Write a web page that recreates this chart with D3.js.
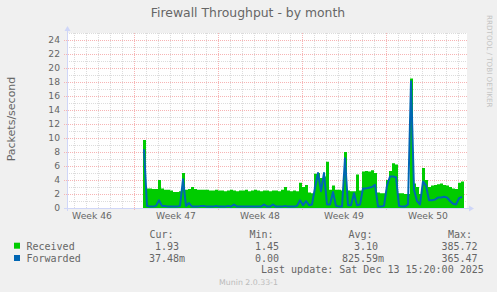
<!DOCTYPE html>
<html><head><meta charset="utf-8">
<script src="https://cdn.jsdelivr.net/npm/d3@7/dist/d3.min.js"></script>
<style>
html,body{margin:0;padding:0;background:#f0f0f0;}
svg{display:block;}
text{font-family:"DejaVu Sans",sans-serif;fill:#666666;}
.mono{font-family:"DejaVu Sans Mono",monospace;}
</style></head><body>
<svg id="c" width="497" height="292"></svg>
<script>
// ---------- data ----------
const title = "Firewall Throughput - by month";
const yLabel = "Packets/second";
const yTicks = [0, 2, 4, 6, 8, 10, 12, 14, 16, 18, 20, 22, 24];
const yMax = 25;
const seriesNames = ["Received", "Forwarded"];
const seriesColors = ["#00cc00", "#0066b3"];
const startTime = Date.UTC(2025, 10, 17, 18);   // first sample
const stepHours = 6;
const received = [
  9.7, 2.8, 2.8, 2.7, 2.7, 4.0, 2.8, 2.6, 2.6, 2.5,
  2.3, 2.3, 2.4, 5.0, 2.6, 2.7, 3.0, 2.7, 2.6, 2.6,
  2.6, 2.6, 2.5, 2.5, 2.6, 2.5, 2.5, 2.4, 2.5, 2.6,
  2.5, 2.4, 2.5, 2.5, 2.6, 2.4, 2.5, 2.6, 2.5, 2.4,
  2.5, 2.5, 2.4, 2.5, 2.5, 2.4, 2.6, 3.0, 2.5, 2.4,
  2.5, 2.4, 3.6, 3.0, 3.3, 2.2, 2.1, 4.9, 5.0, 4.3,
  4.5, 6.6, 2.6, 3.2, 2.6, 2.6, 2.5, 8.0, 2.5, 2.4,
  2.4, 4.8, 2.5, 5.2, 5.3, 5.2, 5.4, 5.0, 2.2, 2.1,
  2.1, 4.0, 5.3, 6.4, 6.2, 2.1, 2.1, 2.0, 2.0, 18.5,
  3.5, 3.0, 2.0, 5.7, 4.0, 3.0, 3.2, 3.3, 3.4, 3.5,
  3.3, 3.2, 3.0, 2.8, 2.7, 3.6, 3.8
];
const forwarded = [
  8.4, 0.3, 0.2, 0.2, 0.3, 1.1, 0.3, 0.3, 0.2, 0.2,
  0.2, 0.2, 0.3, 4.1, 0.3, 0.7, 0.2, 0.2, 0.2, 0.3,
  0.3, 0.2, 0.2, 0.2, 0.3, 0.2, 0.2, 0.2, 0.3, 0.2,
  0.5, 0.2, 0.2, 0.2, 0.2, 0.2, 0.2, 0.2, 0.2, 0.2,
  0.5, 0.2, 0.2, 0.5, 0.2, 0.2, 0.2, 0.3, 0.2, 0.2,
  0.2, 0.3, 1.1, 0.4, 1.0, 0.4, 0.5, 2.9, 5.0, 2.4,
  5.0, 0.5, 0.5, 2.3, 0.3, 0.2, 0.2, 7.1, 0.4, 0.4,
  2.1, 0.4, 0.5, 2.8, 2.8, 2.9, 3.0, 3.3, 0.2, 0.2,
  0.3, 3.2, 4.5, 4.5, 4.4, 0.3, 0.2, 0.2, 0.5, 18.1,
  2.6, 1.0, 0.5, 3.8, 3.2, 1.1, 1.1, 1.2, 1.5, 1.5,
  1.6, 1.5, 1.0, 0.6, 0.5, 1.4, 1.6
];
const legendHeaders = ["Cur:", "Min:", "Avg:", "Max:"];
const receivedStats = ["1.93", "1.45", "3.10", "385.72"];
const forwardedStats = ["37.48m", "0.00", "825.59m", "365.47"];
const lastUpdate = "Last update: Sat Dec 13 15:20:00 2025";
const watermark = "RRDTOOL / TOBI OETIKER";
const footer = "Munin 2.0.33-1";

// ---------- drawing ----------
(function draw() {
const W = 497, H = 292;
const pLeft = 67, pRight = 467, pTop = 33, pBottom = 208;
const domainStart = new Date(Date.UTC(2025, 10, 11, 10));
const domainEnd = new Date(Date.UTC(2025, 11, 14, 18));
const minorGrid = "#dcdcdc", majorGrid = "#f7b4b4";

const svg = d3.select("#c");
svg.append("rect").attr("width", W).attr("height", H).attr("fill", "#f0f0f0");

const x = d3.scaleUtc().domain([domainStart, domainEnd]).range([pLeft, pRight]);
const y = d3.scaleLinear().domain([0, yMax]).range([pBottom, pTop]);

svg.append("rect").attr("x", pLeft).attr("y", pTop)
  .attr("width", pRight - pLeft).attr("height", pBottom - pTop).attr("fill", "#ffffff");

const g = svg.append("g").attr("shape-rendering", "crispEdges");
const days = d3.utcDay.range(domainStart, domainEnd);
const mondays = d3.utcMonday.range(domainStart, domainEnd);
const mondaySet = new Set(mondays.map(d => +d));
days.filter(d => !mondaySet.has(+d)).forEach(d => {
  const px = Math.round(x(d)) + 0.5;
  g.append("line").attr("x1", px).attr("x2", px).attr("y1", pTop).attr("y2", pBottom)
    .attr("stroke", minorGrid).attr("stroke-dasharray", "1,1");
});
d3.range(1, yMax + 1).filter(v => !yTicks.includes(v)).forEach(v => {
  const py = Math.round(y(v)) + 0.5;
  g.append("line").attr("x1", pLeft).attr("x2", pRight).attr("y1", py).attr("y2", py)
    .attr("stroke", minorGrid).attr("stroke-dasharray", "1,1");
});
yTicks.filter(v => v > 0).forEach(v => {
  const py = Math.round(y(v)) + 0.5;
  g.append("line").attr("x1", pLeft - 3).attr("x2", pRight).attr("y1", py).attr("y2", py)
    .attr("stroke", majorGrid).attr("stroke-dasharray", "1,1");
});
mondays.forEach(d => {
  const px = Math.round(x(d)) + 0.5;
  g.append("line").attr("x1", px).attr("x2", px).attr("y1", pTop).attr("y2", pBottom + 3)
    .attr("stroke", majorGrid).attr("stroke-dasharray", "1,1");
});

const stepMs = stepHours * 3600 * 1000;
const recData = received.map((v, i) => ({ t: new Date(startTime + i * stepMs), v }));
recData.push({ t: new Date(startTime + received.length * stepMs), v: received[received.length - 1] });
const fwdData = forwarded.map((v, i) => ({ t: new Date(startTime + i * stepMs + stepMs / 3), v }));

svg.append("path").datum(recData)
  .attr("fill", seriesColors[0])
  .attr("d", d3.area().curve(d3.curveStepAfter).x(d => x(d.t)).y0(y(0)).y1(d => y(d.v)));
svg.append("path").datum(fwdData)
  .attr("fill", "none").attr("stroke", seriesColors[1]).attr("stroke-width", 2)
  .attr("stroke-linejoin", "round")
  .attr("d", d3.line().x(d => x(d.t)).y(d => y(d.v)));

const axisColor = "#cfd6f8";
svg.append("line").attr("x1", pLeft - 3).attr("x2", pRight + 3).attr("y1", pBottom + 0.5).attr("y2", pBottom + 0.5)
  .attr("stroke", axisColor);
svg.append("line").attr("x1", pLeft + 0.5).attr("x2", pLeft + 0.5).attr("y1", pBottom + 3).attr("y2", pTop - 3)
  .attr("stroke", axisColor);
svg.append("path").attr("d", `M${pRight + 2},${pBottom - 2.5}L${pRight + 7},${pBottom + 0.5}L${pRight + 2},${pBottom + 3.5}Z`)
  .attr("fill", axisColor);
svg.append("path").attr("d", `M${pLeft - 2.5},${pTop - 2}L${pLeft + 0.5},${pTop - 7}L${pLeft + 3.5},${pTop - 2}Z`)
  .attr("fill", axisColor);

yTicks.forEach(v => {
  svg.append("text").attr("x", 60).attr("y", y(v) + 3.3).attr("text-anchor", "end")
    .attr("font-size", 9.2).text(v);
});

const weekStarts = d3.utcMonday.range(d3.utcMonday.floor(domainStart), domainEnd);
weekStarts.forEach(d => {
  const mid = d3.utcHour.offset(d, 84);
  if (mid < domainStart || mid > domainEnd) return;
  svg.append("text").attr("x", x(mid)).attr("y", 219.3).attr("text-anchor", "middle")
    .attr("font-size", 9.2).text("Week " + d3.utcFormat("%V")(d));
});

svg.append("text").attr("x", 248).attr("y", 17).attr("text-anchor", "middle")
  .attr("font-size", 12.4).text(title);

svg.append("text").attr("transform", "translate(14.5,119) rotate(-90)")
  .attr("text-anchor", "middle").attr("font-size", 11).text(yLabel);

svg.append("text").attr("transform", "translate(487,15) rotate(90)")
  .attr("font-size", 7.2).style("fill", "#c4c4c4").text(watermark);

const colX = [143, 243, 342, 441.5];
const rowY = [238, 249.7, 261.5];
function fmt(s) {
  const m = s.match(/^([0-9.\-]+)([a-zA-Z]?)$/);
  return m[1].padStart(6, " ") + (m[2] || " ");
}
legendHeaders.forEach((h, i) => {
  svg.append("text").attr("class", "mono").attr("x", colX[i] + 6.5).attr("y", rowY[0])
    .attr("font-size", 10).text(h);
});
[receivedStats, forwardedStats].forEach((stats, r) => {
  svg.append("rect").attr("x", 14).attr("y", 242.7 + r * 12.3).attr("width", 6).attr("height", 6)
    .attr("fill", seriesColors[r]);
  svg.append("text").attr("class", "mono").attr("x", 26.5).attr("y", rowY[r + 1])
    .attr("font-size", 10).text(seriesNames[r]);
  stats.forEach((s, i) => {
    svg.append("text").attr("class", "mono").attr("x", colX[i]).attr("y", rowY[r + 1])
      .attr("font-size", 10).attr("xml:space", "preserve").style("white-space", "pre").text(fmt(s));
  });
});
svg.append("text").attr("class", "mono").attr("x", 261).attr("y", 273.3)
  .attr("font-size", 10).text(lastUpdate);
svg.append("text").attr("x", 248.5).attr("y", 284.5).attr("text-anchor", "middle")
  .attr("font-size", 7.8).style("fill", "#bbbbbb").text(footer);
})();
</script>
</body></html>
